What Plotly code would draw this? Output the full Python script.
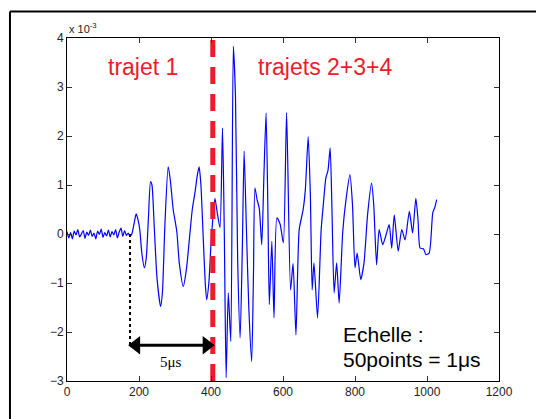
import plotly.graph_objects as go

# Signal samples (index) and amplitude (x 10^-3)
sample_idx = [0, 5, 10, 15, 20, 25, 30, 35, 40, 45, 50, 55, 60, 65, 70, 75, 80, 85, 90, 95,
              100, 105, 110, 115, 120, 125, 130, 135, 140, 145, 150, 155, 160, 165, 170, 175,
              180, 186, 192, 197, 202, 208, 215, 220, 226, 232, 236, 242, 250, 260, 265, 272,
              281, 287, 295, 305, 312, 323, 332, 340, 348, 356, 362, 367, 372, 378, 384, 388,
              394, 400, 406, 411, 418, 425, 432, 437, 442, 448, 455, 462, 468, 474, 481, 487,
              492, 498, 505, 513, 518, 522, 528, 534, 541, 547, 553, 558, 562, 569, 575, 583,
              592, 601, 610, 621, 628, 636, 645, 656, 662, 670, 676, 681, 686, 696, 706, 712,
              719, 725, 731, 736, 742, 749, 756, 766, 775, 786, 793, 800, 806, 816, 825, 835,
              846, 852, 860, 867, 877, 885, 895, 902, 909, 920, 930, 939, 951, 960, 969, 975,
              981, 990, 997, 1006, 1016, 1022, 1027]
amplitude_e3 = [0.05, -0.08, 0.03, -0.10, 0.06, -0.02, 0.09, -0.06, 0.00, 0.07, -0.09, 0.04,
                -0.03, 0.08, -0.05, 0.02, -0.10, 0.06, -0.01, 0.10, -0.07, 0.03, -0.04, 0.08,
                -0.06, 0.05, -0.02, 0.09, -0.08, 0.04, 0.12, -0.05, 0.07, -0.03, 0.02, -0.05,
                0.00, 0.20, 0.41, 0.30, 0.10, -0.40, -0.69, -0.50, 0.30, 1.07, 1.00, 0.20,
                -0.90, -1.48, -1.20, 0.20, 1.37, 1.10, 0.50, 0.05, -0.60, -1.07, -0.70, -0.10,
                0.50, 0.87, 1.20, 1.37, 1.00, 0.00, -1.00, -1.34, -1.00, -0.20, 0.40, 0.73,
                0.40, 0.13, 2.16, 0.00, -2.93, -1.20, -2.19, 3.83, 2.80, -0.50, -2.12, -0.30,
                1.69, 0.20, -1.50, -2.60, -0.80, 0.94, 0.70, 0.53, -0.22, 1.20, 2.47, 0.50,
                -1.44, -0.15, -1.71, 0.33, 0.20, -0.18, 2.48, -1.14, -0.60, -2.06, 0.09, 0.50,
                0.90, 1.99, 0.80, -1.14, -0.59, -1.71, 0.09, 0.60, 1.14, 1.30, 1.76, 0.50,
                -1.20, -0.59, -1.41, 0.05, 0.70, 1.21, 0.60, -0.69, -0.39, -0.93, -0.59, 0.40,
                1.04, 0.60, -0.63, 0.09, -0.22, -0.05, 0.19, -0.29, 0.39, -0.35, 0.09, -0.12,
                0.46, 0.02, 0.73, 0.30, -0.29, -0.30, -0.42, -0.39, 0.43, 0.55, 0.70]

x_ticks = [0, 200, 400, 600, 800, 1000, 1200]
y_ticks = [-3, -2, -1, 0, 1, 2, 3, 4]
split_idx = 405        # red dashed separator
start_idx = 175        # start of first path
arrow_level = -2.27
red = "#ec1c2a"

fig = go.Figure()
fig.add_trace(go.Scatter(x=sample_idx, y=amplitude_e3, mode="lines",
                         line=dict(color="#0000ff", width=1.2, shape="spline", smoothing=0.6),
                         hoverinfo="skip", showlegend=False))

# dashed separator
fig.add_trace(go.Scatter(x=[split_idx, split_idx], y=[-3, 4], mode="lines",
                         line=dict(color=red, width=5, dash="17px,10px"),
                         hoverinfo="skip", showlegend=False))
# dotted vertical
fig.add_trace(go.Scatter(x=[start_idx, start_idx], y=[0, arrow_level], mode="lines",
                         line=dict(color="black", width=2, dash="dot"),
                         hoverinfo="skip", showlegend=False))
# double arrow (line + heads)
fig.add_trace(go.Scatter(x=[start_idx + 14, split_idx - 14], y=[arrow_level, arrow_level],
                         mode="lines", line=dict(color="black", width=3),
                         hoverinfo="skip", showlegend=False))
fig.add_trace(go.Scatter(x=[start_idx + 17, split_idx - 17], y=[arrow_level, arrow_level],
                         mode="markers",
                         marker=dict(symbol=["triangle-left", "triangle-right"], size=16,
                                     color="black", line=dict(width=0)),
                         hoverinfo="skip", showlegend=False))

annotations = [
    dict(x=(start_idx + split_idx) / 2 - 2, y=-2.62, xref="x", yref="y", showarrow=False,
         text="5μs", font=dict(family="Liberation Serif", size=15, color="black")),
    dict(x=211, y=3.41, xref="x", yref="y", showarrow=False, text="trajet 1",
         font=dict(family="Liberation Sans", size=23, color=red)),
    dict(x=716, y=3.41, xref="x", yref="y", showarrow=False, text="trajets 2+3+4",
         font=dict(family="Liberation Sans", size=23, color=red)),
    dict(x=760, y=-2.05, xref="x", yref="y", showarrow=False, xanchor="left",
         text="Echelle :", font=dict(family="Liberation Sans", size=21, color="black")),
    dict(x=760, y=-2.56, xref="x", yref="y", showarrow=False, xanchor="left",
         text="50points = 1μs", font=dict(family="Liberation Sans", size=21, color="black")),
    dict(x=0, y=1.0, xref="paper", yref="paper", showarrow=False, xanchor="left",
         yanchor="bottom", yshift=1,
         text="x 10<sup>-3</sup>", font=dict(family="Liberation Sans", size=11, color="#222")),
]

shapes = [
    dict(type="line", xref="paper", yref="paper", x0=-0.132, x1=1.2, y0=1.077, y1=1.077,
         line=dict(color="black", width=2)),
    dict(type="line", xref="paper", yref="paper", x0=-0.132, x1=-0.132, y0=1.077, y1=-0.2,
         line=dict(color="black", width=2)),
]

axis_common = dict(showgrid=False, zeroline=False, showline=True, linecolor="black",
                   linewidth=1, mirror="ticks", ticks="inside", ticklen=5, tickcolor="#333",
                   tickfont=dict(family="Liberation Sans", size=12, color="#222"))

# page body adds an 8px margin, so the figure is sized to fit the 544x419 window
fig.update_layout(
    width=536, height=411,
    margin=dict(l=59, r=45, t=30, b=38),
    paper_bgcolor="white", plot_bgcolor="white",
    xaxis=dict(range=[0, 1200], tickvals=x_ticks, **axis_common),
    yaxis=dict(range=[-3, 4], tickvals=y_ticks, **axis_common),
    annotations=annotations, shapes=shapes,
)

fig.write_html("out.html")
